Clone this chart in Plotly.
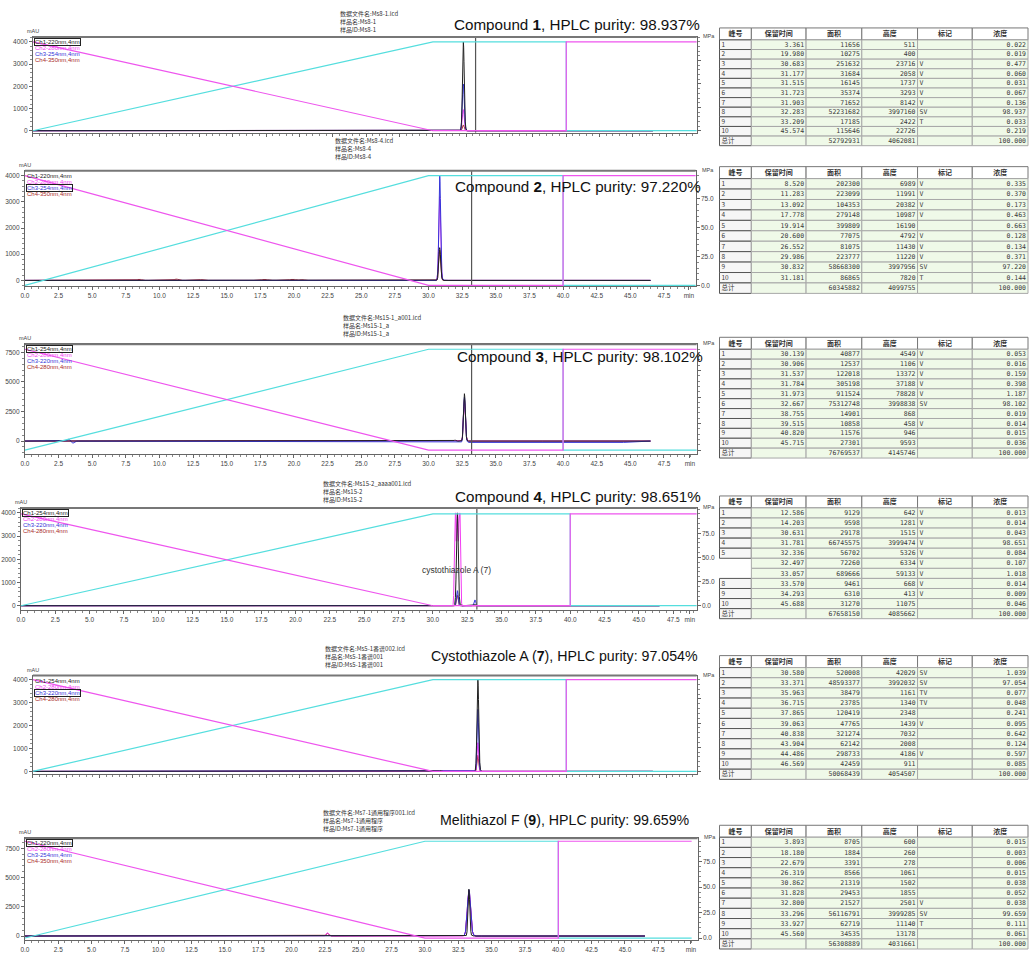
import numpy as np
import plotly.graph_objects as go

FIG_W, FIG_H = 1030, 955

# ---------------------------------------------------------------- colours
CH_COLORS = {"ch1": "#202020", "ch2": "#f23cf2", "ch3": "#3434d8", "ch4": "#a82a2a"}
GRAD_B_COLOR = "#55dede"
GRAD_A_COLOR = "#ee55ee"
MARK_COLOR = "#555555"

# ---------------------------------------------------------------- gradient program (%, right axis)
grad_time = [0, 30, 40, 40, 50]
grad_b = [0, 95, 95, 0, 0]
grad_a = [95, 0, 0, 95, 95]
marker_time = 33.2

# ---------------------------------------------------------------- peak tables
table_header = ["峰号", "保留时间", "面积", "高度", "标记", "浓度"]

t1_rt = [3.361, 19.980, 30.683, 31.177, 31.515, 31.723, 31.903, 32.283, 33.209, 45.574]
t1_area = [11656, 10275, 251632, 31684, 16145, 35374, 71652, 52231682, 17185, 115646]
t1_height = [511, 400, 23716, 2058, 1737, 3293, 8142, 3997160, 2422, 22726]
t1_mark = ["", "", "V", "V", "V", "V", "V", "SV", "T", ""]
t1_conc = [0.022, 0.019, 0.477, 0.060, 0.031, 0.067, 0.136, 98.937, 0.033, 0.219]
t1_total = [52792931, 4062081]

t2_rt = [8.520, 11.283, 13.092, 17.778, 19.914, 20.600, 26.552, 29.986, 30.832, 31.181]
t2_area = [202300, 223099, 104353, 279148, 399809, 77075, 81075, 223777, 58668300, 86865]
t2_height = [6989, 11991, 20382, 10987, 16190, 4792, 11430, 11220, 3997956, 7820]
t2_mark = ["V", "V", "V", "V", "", "V", "V", "V", "SV", "T"]
t2_conc = [0.335, 0.370, 0.173, 0.463, 0.663, 0.128, 0.134, 0.371, 97.220, 0.144]
t2_total = [60345882, 4099755]

t3_rt = [30.139, 30.906, 31.537, 31.784, 31.973, 32.667, 38.755, 39.515, 40.820, 45.715]
t3_area = [40877, 12537, 122018, 305198, 911524, 75312748, 14901, 10858, 11576, 27301]
t3_height = [4549, 1106, 13372, 37188, 78828, 3998838, 868, 458, 946, 9593]
t3_mark = ["V", "V", "V", "V", "V", "SV", "", "V", "", ""]
t3_conc = [0.053, 0.016, 0.159, 0.398, 1.187, 98.102, 0.019, 0.014, 0.015, 0.036]
t3_total = [76769537, 4145746]

t4_rt = [12.586, 14.203, 30.631, 31.781, 32.336, 32.497, 33.057, 33.570, 34.293, 45.688]
t4_area = [9129, 9598, 29178, 66745575, 56702, 72260, 689666, 9461, 6310, 31270]
t4_height = [642, 1281, 1515, 3999474, 5326, 6334, 59133, 668, 413, 11075]
t4_mark = ["V", "V", "V", "V", "V", "V", "V", "V", "V", ""]
t4_conc = [0.013, 0.014, 0.043, 98.651, 0.084, 0.107, 1.018, 0.014, 0.009, 0.046]
t4_total = [67658150, 4085662]

t5_rt = [30.580, 33.371, 35.963, 36.715, 37.865, 39.063, 40.838, 43.904, 44.486, 46.569]
t5_area = [520008, 48593377, 38479, 23785, 120419, 47765, 321274, 62142, 298733, 42459]
t5_height = [42029, 3992032, 1161, 1340, 2348, 1439, 7032, 2008, 4186, 911]
t5_mark = ["SV", "SV", "TV", "TV", "", "V", "", "", "V", ""]
t5_conc = [1.039, 97.054, 0.077, 0.048, 0.241, 0.095, 0.642, 0.124, 0.597, 0.085]
t5_total = [50068439, 4054507]

t6_rt = [3.893, 18.180, 22.679, 26.319, 30.862, 31.828, 32.800, 33.296, 33.927, 45.560]
t6_area = [8705, 1884, 3391, 8566, 21319, 29453, 21527, 56116791, 62719, 34535]
t6_height = [600, 260, 278, 1061, 1502, 1855, 2501, 3999285, 11140, 13178]
t6_mark = ["", "", "", "", "", "", "V", "SV", "T", ""]
t6_conc = [0.015, 0.003, 0.006, 0.015, 0.038, 0.052, 0.038, 99.659, 0.111, 0.061]
t6_total = [56308889, 4031661]

# ---------------------------------------------------------------- other channels (time, mAU, width in min)
p1_ch2 = [(32.28, 950, 0.07)]
p1_ch3 = [(32.28, 2100, 0.07)]
p1_ch4 = [(32.28, 260, 0.07)]

p2_ch1 = [(30.83, 1250, 0.07)]
p2_ch2 = [(30.83, 3200, 0.07)]
p2_ch4 = [(8.5, 45, 0.15), (11.25, 50, 0.15), (13.1, 30, 0.12), (17.8, 40, 0.2), (19.9, 45, 0.2),
          (20.6, 30, 0.15), (30.83, 1150, 0.07)]

p3_ch2 = [(32.67, 3300, 0.07)]
p3_ch3 = [(3.25, 190, 0.08), (3.55, -170, 0.1), (32.67, 3850, 0.07)]
p3_ch4 = [(32.67, 3550, 0.07)]
p3_ch3_drift_t = [0, 12, 18, 21, 30, 44.5, 46, 50]
p3_ch3_drift_v = [0, -20, -40, -80, -110, -110, 0, 0]

# saturated 280 nm band: overlapping components clipped at the detector limit give a flat top
p4_ch2 = [(31.62, 5000, 0.05), (31.78, 5000, 0.05), (31.94, 5000, 0.05)]
p4_ch3 = [(31.78, 650, 0.06), (33.06, 250, 0.06)]
p4_ch4 = [(31.78, 450, 0.06)]

p5_ch2 = [(33.37, 1250, 0.06)]
p5_ch3 = [(33.37, 2700, 0.06)]
p5_ch4 = [(33.37, 700, 0.06)]

p6_ch2 = [(22.68, 280, 0.1), (33.30, 3900, 0.12)]
p6_ch3 = [(33.30, 3950, 0.12)]
p6_ch4 = [(22.68, 220, 0.1), (33.30, 3800, 0.12)]

# ---------------------------------------------------------------- text
titles = [
    "Compound <b>1</b>, HPLC purity: 98.937%",
    "Compound <b>2</b>, HPLC purity: 97.220%",
    "Compound <b>3</b>, HPLC purity: 98.102%",
    "Compound <b>4</b>, HPLC purity: 98.651%",
    "Cystothiazole A (<b>7</b>), HPLC purity: 97.054%",
    "Melithiazol F (<b>9</b>), HPLC purity: 99.659%",
]
file_info = [
    ["数据文件名:Ms8-1.lcd", "样品名:Ms8-1", "样品ID:Ms8-1"],
    ["数据文件名:Ms8-4.lcd", "样品名:Ms8-4", "样品ID:Ms8-4"],
    ["数据文件名:Ms15-1_a001.lcd", "样品名:Ms15-1_a", "样品ID:Ms15-1_a"],
    ["数据文件名:Ms15-2_aaaa001.lcd", "样品名:Ms15-2", "样品ID:Ms15-2"],
    ["数据文件名:Ms5-1番谱002.lcd", "样品名:Ms5-1番谱001", "样品ID:Ms5-1番谱001"],
    ["数据文件名:Ms7-1通用程序001.lcd", "样品名:Ms7-1通用程序", "样品ID:Ms7-1通用程序"],
]
legend_labels = [
    ["Ch1-220nm,4nm", "Ch2-280nm,4nm", "Ch3-254nm,4nm", "Ch4-350nm,4nm"],
    ["Ch1-220nm,4nm", "Ch2-280nm,4nm", "Ch3-254nm,4nm", "Ch4-350nm,4nm"],
    ["Ch1-254nm,4nm", "Ch2-280nm,4nm", "Ch3-220nm,4nm", "Ch4-280nm,4nm"],
    ["Ch1-254nm,4nm", "Ch2-280nm,4nm", "Ch3-220nm,4nm", "Ch4-280nm,4nm"],
    ["Ch1-254nm,4nm", "Ch2-280nm,4nm", "Ch3-220nm,4nm", "Ch4-280nm,4nm"],
    ["Ch1-220nm,4nm", "Ch2-280nm,4nm", "Ch3-254nm,4nm", "Ch4-350nm,4nm"],
]
legend_boxed = [0, 2, 0, 0, 2, 0]

# ---------------------------------------------------------------- layout geometry (pixels)
panels = [
    dict(L=28, R=695, T=37, B=133, y0=131, yv=42, yref=4000, r0=131, r95=42, x0=28, xv=430, xref=30,
         ystep=1000, xlabels=False, rlabels=False, table=(28, 146), title=(575, 25, 15.2), info=(335, 7),
         mark=True),
    dict(L=20, R=694, T=171, B=287, y0=281, yv=176, yref=4000, r0=286, r95=176, x0=20, xv=358, xref=25,
         ystep=1000, xlabels=True, rlabels=True, table=(167, 294), title=(576, 187, 15.2), info=(330, 134),
         mark=True),
    dict(L=20, R=695, T=345, B=455, y0=442, yv=353, yref=7500, r0=451, r95=350, x0=20, xv=358, xref=25,
         ystep=2500, xlabels=True, rlabels=False, table=(338, 459), title=(578, 357, 15.2), info=(338, 312),
         mark=True),
    dict(L=16, R=695, T=509, B=611, y0=607, yv=514, yref=4000, r0=607, r95=515, x0=16, xv=430, xref=30,
         ystep=1000, xlabels=True, rlabels=True, table=(497, 620), title=(576, 498, 15.2), info=(318, 478),
         mark=True),
    dict(L=28, R=695, T=677, B=776, y0=773, yv=681, yref=4000, r0=773, r95=681, x0=28, xv=430, xref=30,
         ystep=1000, xlabels=False, rlabels=False, table=(657, 781), title=(562, 657, 14.2), info=(320, 643),
         mark=False),
    dict(L=20, R=696, T=840, B=942, y0=938, yv=850, yref=7500, r0=940, r95=843, x0=20, xv=422, xref=30,
         ystep=2500, xlabels=True, rlabels=True, table=(827, 951), title=(563, 822, 14.2), info=(318, 808),
         mark=False),
]

tables = [
    (t1_rt, t1_area, t1_height, t1_mark, t1_conc, t1_total),
    (t2_rt, t2_area, t2_height, t2_mark, t2_conc, t2_total),
    (t3_rt, t3_area, t3_height, t3_mark, t3_conc, t3_total),
    (t4_rt, t4_area, t4_height, t4_mark, t4_conc, t4_total),
    (t5_rt, t5_area, t5_height, t5_mark, t5_conc, t5_total),
    (t6_rt, t6_area, t6_height, t6_mark, t6_conc, t6_total),
]
table_channel = ["ch1", "ch3", "ch1", "ch1", "ch1", "ch1"]
extra_peaks = [
    {"ch2": p1_ch2, "ch3": p1_ch3, "ch4": p1_ch4},
    {"ch1": p2_ch1, "ch2": p2_ch2, "ch4": p2_ch4},
    {"ch2": p3_ch2, "ch3": p3_ch3, "ch4": p3_ch4},
    {"ch2": p4_ch2, "ch3": p4_ch3, "ch4": p4_ch4},
    {"ch2": p5_ch2, "ch3": p5_ch3, "ch4": p5_ch4},
    {"ch2": p6_ch2, "ch3": p6_ch3, "ch4": p6_ch4},
]
drifts = [None, None, {"ch3": (p3_ch3_drift_t, p3_ch3_drift_v)}, None, None, None]
DETECTOR_LIMIT = 4000  # mAU, detector saturation

# peak outline template (offsets in widths, relative height)
PROFILE_X = np.array([-4.0, -3.0, -2.2, -1.6, -1.1, -0.7, -0.35, 0.0, 0.35, 0.7, 1.1, 1.6, 2.2, 3.0, 4.5])
PROFILE_Y = np.array([0.0, 0.011, 0.089, 0.278, 0.546, 0.783, 0.941, 1.0, 0.941, 0.783, 0.546, 0.278,
                      0.1, 0.02, 0.0])

# table column geometry (pixels)
TABLE_LEFT = 718
TABLE_COL_W = [32, 55, 56, 56, 55, 56]
TABLE_HEAD_H = 12


def px_x(p):
    return p / FIG_W


def px_y(p):
    return 1 - p / FIG_H


def chromatogram(peaks, t_end, drift=None):
    pts = [0.0, t_end]
    for t0, h, w in peaks:
        pts.extend(t0 + w * PROFILE_X)
    if drift is not None:
        pts.extend(drift[0])
    grid = np.unique(np.clip(np.array(pts), 0, t_end))
    y = np.zeros_like(grid)
    for t0, h, w in peaks:
        y += h * np.interp(grid, t0 + w * PROFILE_X, PROFILE_Y, left=0, right=0)
    if drift is not None:
        y += np.interp(grid, drift[0], drift[1])
    return grid, np.minimum(y, DETECTOR_LIMIT)


fig = go.Figure()
annotations = []
shapes = []
layout_axes = {}

# full-page pixel axes used for the peak tables
layout_axes["xaxis13"] = dict(domain=[0, 1], range=[0, FIG_W], visible=False, anchor="y13", fixedrange=True)
layout_axes["yaxis13"] = dict(domain=[0, 1], range=[FIG_H, 0], visible=False, anchor="x13", fixedrange=True)

for i, pn in enumerate(panels):
    k = i + 1
    xa = "x" if k == 1 else f"x{k}"
    ya = "y" if k == 1 else f"y{k}"
    ra = f"y{k + 6}"
    xname = "xaxis" if k == 1 else f"xaxis{k}"
    yname = "yaxis" if k == 1 else f"yaxis{k}"
    rname = f"yaxis{k + 6}"

    xppu = (pn["xv"] - pn["x0"]) / pn["xref"]
    x_rng = [(pn["L"] - pn["x0"]) / xppu, (pn["R"] - pn["x0"]) / xppu]
    yppu = (pn["y0"] - pn["yv"]) / pn["yref"]
    y_rng = [(pn["y0"] - pn["B"]) / yppu, (pn["y0"] - pn["T"]) / yppu]
    rppu = (pn["r0"] - pn["r95"]) / 95
    r_rng = [(pn["r0"] - pn["B"]) / rppu, (pn["r0"] - pn["T"]) / rppu]
    t_end = x_rng[1]

    dom_x = [px_x(pn["L"]), px_x(pn["R"])]
    dom_y = [px_y(pn["B"]), px_y(pn["T"])]

    tick_font = dict(family="Liberation Sans", size=6.5, color="#444")
    xt = list(np.arange(0, 48, 2.5))
    xtt = [f"{v:.1f}" for v in xt]
    if pn["xlabels"]:
        xt.append(x_rng[1] - 0.5)
        xtt.append("min")
    layout_axes[xname] = dict(
        domain=dom_x, anchor=ya, range=x_rng, tickvals=xt,
        ticktext=xtt if pn["xlabels"] else [""] * len(xt),
        ticks="outside", ticklen=3, tickcolor="#666", tickfont=tick_font,
        minor=dict(ticks="outside", ticklen=2, dtick=0.5, tickcolor="#888"),
        showline=True, linecolor="#666", linewidth=1, mirror=True,
        showgrid=False, zeroline=False, fixedrange=True,
    )
    yt = list(np.arange(0, pn["yref"] + 1, pn["ystep"]))
    layout_axes[yname] = dict(
        domain=dom_y, anchor=xa, range=y_rng, tickvals=yt, ticktext=[f"{int(v)}" for v in yt],
        ticks="outside", ticklen=3, tickcolor="#666", tickfont=tick_font,
        minor=dict(ticks="outside", ticklen=2, dtick=pn["ystep"] / 5, tickcolor="#888"),
        showline=True, linecolor="#666", linewidth=1, showgrid=False, zeroline=False, fixedrange=True,
    )
    rt_vals = [0, 25, 50, 75]
    layout_axes[rname] = dict(
        domain=dom_y, anchor=xa, overlaying=ya, side="right", range=r_rng,
        tickvals=rt_vals, ticktext=[f"{v:.1f}" for v in rt_vals] if pn["rlabels"] else [""] * 4,
        ticks="outside", ticklen=3, tickcolor="#666", tickfont=tick_font,
        minor=dict(ticks="outside", ticklen=2, dtick=5, tickcolor="#888"),
        showline=True, linecolor="#666", linewidth=1, showgrid=False, zeroline=False, fixedrange=True,
    )
    shapes.append(dict(type="line", xref="paper", yref="paper", x0=dom_x[0], x1=dom_x[1],
                       y0=dom_y[1], y1=dom_y[1], line=dict(color="#777", width=2)))

    # gradient program
    fig.add_trace(go.Scatter(x=grad_time, y=grad_b, xaxis=xa, yaxis=ra, mode="lines",
                             line=dict(color=GRAD_B_COLOR, width=1.2), showlegend=False, hoverinfo="skip"))
    fig.add_trace(go.Scatter(x=grad_time, y=grad_a, xaxis=xa, yaxis=ra, mode="lines",
                             line=dict(color=GRAD_A_COLOR, width=1.2), showlegend=False, hoverinfo="skip"))

    # detector channels
    rt, area, height, mark, conc, total = tables[i]
    main_peaks = [(t, h / 1000.0, 0.065) for t, h in zip(rt, height)]
    chans = {"ch1": [], "ch2": [], "ch3": [], "ch4": []}
    chans[table_channel[i]] = main_peaks
    for c, pk in extra_peaks[i].items():
        chans[c] = pk
    for c in ["ch4", "ch2", "ch3", "ch1"]:
        dr = drifts[i].get(c) if drifts[i] else None
        gx, gy = chromatogram(chans[c], min(t_end, 46.5), dr)
        fig.add_trace(go.Scatter(x=gx, y=gy, xaxis=xa, yaxis=ya, mode="lines",
                                 line=dict(color=CH_COLORS[c], width=1), showlegend=False,
                                 hoverinfo="skip"))

    if pn["mark"]:
        fig.add_trace(go.Scatter(x=[marker_time, marker_time], y=[y_rng[0], y_rng[1]], xaxis=xa, yaxis=ya,
                                 mode="lines", line=dict(color=MARK_COLOR, width=1.2),
                                 showlegend=False, hoverinfo="skip"))

    tx_, ty_t, tsize = pn["title"]
    annotations.append(dict(text=titles[i], xref="paper", yref="paper", x=px_x(tx_), y=px_y(ty_t),
                            xanchor="center", yanchor="middle", showarrow=False,
                            font=dict(family="Liberation Sans", size=tsize, color="#111")))
    annotations.append(dict(text="<br>".join(file_info[i]), xref="paper", yref="paper",
                            x=px_x(pn["info"][0]), y=px_y(pn["info"][1]), xanchor="left", yanchor="top",
                            align="left", showarrow=False,
                            font=dict(family="Noto Sans CJK SC", size=6, color="#333")))
    annotations.append(dict(text="mAU", xref="paper", yref="paper", x=px_x(pn["L"] - 8),
                            y=px_y(pn["T"] - 1), xanchor="left", yanchor="bottom", showarrow=False,
                            font=dict(family="Liberation Sans", size=5.5, color="#444")))
    annotations.append(dict(text="MPa", xref="paper", yref="paper", x=px_x(pn["R"] + 4),
                            y=px_y(pn["T"] - 1), xanchor="left", yanchor="middle", showarrow=False,
                            font=dict(family="Liberation Sans", size=5.5, color="#444")))
    for j, lab in enumerate(legend_labels[i]):
        col = CH_COLORS[f"ch{j + 1}"]
        ann = dict(text=lab, xref="paper", yref="paper", x=px_x(pn["L"] + 1), y=px_y(pn["T"] + 1 + 6 * j),
                   xanchor="left", yanchor="top", showarrow=False, borderpad=0,
                   font=dict(family="Liberation Sans", size=6, color=col))
        if j == legend_boxed[i]:
            ann.update(bordercolor="#222", borderwidth=1)
        annotations.append(ann)

    # ------------------------------------------------ peak table
    n = len(rt)
    ids = [str(v) for v in range(1, n + 1)] + ["总计"]
    columns = [
        ids,
        [f"{v:.3f}" for v in rt] + [""],
        [str(v) for v in area] + [str(total[0])],
        [str(v) for v in height] + [str(total[1])],
        list(mark) + [""],
        [f"{v:.3f}" for v in conc] + ["100.000"],
    ]
    col_align = ["left", "right", "right", "right", "left", "right"]
    ty0, ty1 = pn["table"]
    row_h = (ty1 - ty0 - TABLE_HEAD_H) / (n + 1)
    col_edges = np.cumsum([TABLE_LEFT] + TABLE_COL_W)
    blank_ids = {5, 6} if i == 3 else set()

    for c in range(6):
        cx0, cx1 = col_edges[c], col_edges[c + 1]
        shapes.append(dict(type="rect", xref="x13", yref="y13", x0=cx0, x1=cx1, y0=ty0, y1=ty0 + TABLE_HEAD_H,
                           fillcolor="white", line=dict(color="#777", width=1), layer="below"))
        tx, ty_, tv = [], [], []
        for r in range(n + 1):
            ry0 = ty0 + TABLE_HEAD_H + r * row_h
            if c == 0:
                if r in blank_ids:
                    continue
                fill, lc = "#f6f6f6", "#555"
            else:
                fill, lc = "#eff9e8", "#a8a8a8"
            shapes.append(dict(type="rect", xref="x13", yref="y13", x0=cx0, x1=cx1, y0=ry0, y1=ry0 + row_h,
                               fillcolor=fill, line=dict(color=lc, width=1), layer="below"))
            tx.append(cx0 + 2 if col_align[c] == "left" else cx1 - 2)
            ty_.append(ry0 + row_h / 2 + 0.5)
            tv.append(columns[c][r])
        fig.add_trace(go.Scatter(
            x=tx, y=ty_, text=tv, mode="text", xaxis="x13", yaxis="y13",
            textposition="middle right" if col_align[c] == "left" else "middle left",
            textfont=dict(family="DejaVu Sans Mono" if c else "Noto Sans CJK SC", size=6.5, color="#3a3a3a"),
            showlegend=False, hoverinfo="skip"))
    fig.add_trace(go.Scatter(
        x=[(col_edges[c] + col_edges[c + 1]) / 2 for c in range(6)], y=[ty0 + TABLE_HEAD_H / 2 + 0.5] * 6,
        text=[f"<b>{h}</b>" for h in table_header], mode="text", xaxis="x13", yaxis="y13",
        textposition="middle center",
        textfont=dict(family="Noto Sans CJK SC", size=7, color="#333"),
        showlegend=False, hoverinfo="skip"))

annotations.append(dict(text="cystothiazole A (7)", xref="x4", yref="y4", x=31.7, y=1550,
                        xanchor="center", yanchor="middle", showarrow=False,
                        font=dict(family="Liberation Sans", size=8.5, color="#333")))

fig.update_layout(
    width=FIG_W, height=FIG_H, margin=dict(l=0, r=0, t=0, b=0),
    paper_bgcolor="white", plot_bgcolor="rgba(0,0,0,0)", showlegend=False,
    annotations=annotations, shapes=shapes, **layout_axes,
)

fig.write_html("out.html")
